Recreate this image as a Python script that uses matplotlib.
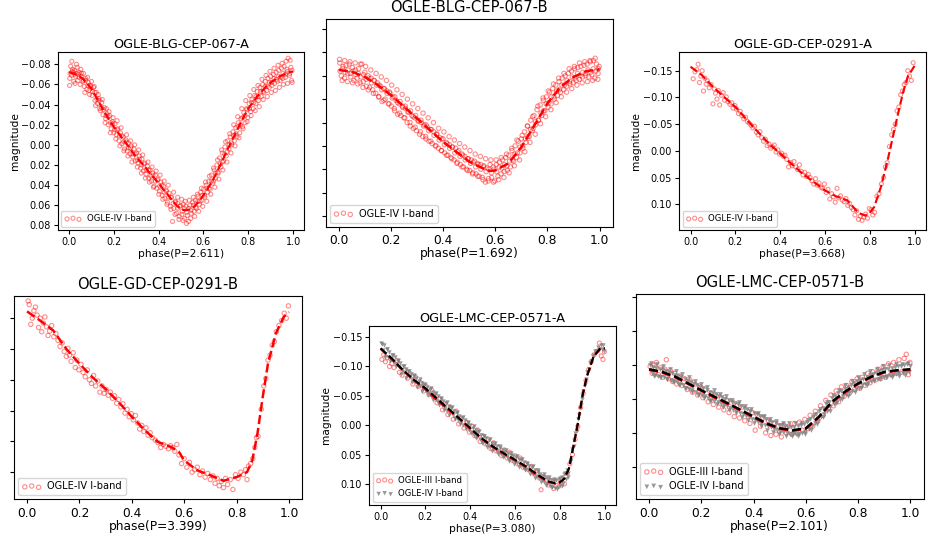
import numpy as np
import matplotlib
matplotlib.use("Agg")
import matplotlib.pyplot as plt

# ---- OGLE-BLG-CEP-067-A (OGLE-IV) ----
a_fit = [(0.00, -0.072), (0.02, -0.071), (0.04, -0.069), (0.06, -0.066), (0.08, -0.061),
         (0.10, -0.056), (0.12, -0.048), (0.14, -0.040), (0.16, -0.032), (0.18, -0.025),
         (0.20, -0.018), (0.22, -0.012), (0.24, -0.006), (0.26, 0.000), (0.28, 0.006),
         (0.30, 0.012), (0.32, 0.017), (0.34, 0.022), (0.36, 0.028), (0.38, 0.033),
         (0.40, 0.038), (0.42, 0.044), (0.44, 0.049), (0.46, 0.055), (0.48, 0.060),
         (0.50, 0.064), (0.52, 0.065), (0.54, 0.064), (0.56, 0.061), (0.58, 0.056),
         (0.60, 0.050), (0.62, 0.043), (0.64, 0.036), (0.66, 0.027), (0.68, 0.018),
         (0.70, 0.008), (0.72, -0.001), (0.74, -0.010), (0.76, -0.019), (0.78, -0.028),
         (0.80, -0.036), (0.82, -0.042), (0.84, -0.048), (0.86, -0.053), (0.88, -0.058),
         (0.90, -0.062), (0.92, -0.065), (0.94, -0.068), (0.96, -0.070), (0.98, -0.072),
         (1.00, -0.073)]
a_pts = [(0.004, -0.066), (0.008, -0.078), (0.012, -0.069), (0.016, -0.075), (0.021, -0.063),
         (0.025, -0.074), (0.030, -0.068), (0.034, -0.080), (0.040, -0.064), (0.045, -0.072),
         (0.050, -0.060), (0.056, -0.071), (0.062, -0.063), (0.068, -0.058), (0.074, -0.066),
         (0.080, -0.055), (0.086, -0.062), (0.092, -0.050), (0.098, -0.058), (0.104, -0.049),
         (0.110, -0.057), (0.116, -0.044), (0.122, -0.052), (0.128, -0.041), (0.134, -0.046),
         (0.140, -0.034), (0.146, -0.042), (0.152, -0.030), (0.158, -0.037), (0.164, -0.026),
         (0.170, -0.031), (0.176, -0.020), (0.182, -0.029), (0.188, -0.016), (0.194, -0.023),
         (0.200, -0.012), (0.206, -0.021), (0.212, -0.010), (0.218, -0.016), (0.224, -0.004),
         (0.230, -0.012), (0.236, -0.001), (0.242, -0.008), (0.248, 0.004), (0.254, -0.005),
         (0.260, 0.006), (0.266, -0.002), (0.272, 0.009), (0.278, 0.001), (0.284, 0.012),
         (0.290, 0.004), (0.296, 0.016), (0.302, 0.008), (0.308, 0.018), (0.314, 0.011),
         (0.320, 0.023), (0.326, 0.014), (0.332, 0.026), (0.338, 0.018), (0.344, 0.029),
         (0.350, 0.021), (0.356, 0.033), (0.362, 0.025), (0.368, 0.036), (0.374, 0.028),
         (0.380, 0.041), (0.386, 0.030), (0.392, 0.043), (0.398, 0.034), (0.404, 0.046),
         (0.410, 0.037), (0.416, 0.050), (0.422, 0.041), (0.428, 0.053), (0.434, 0.045),
         (0.440, 0.057), (0.446, 0.048), (0.452, 0.061), (0.458, 0.052), (0.462, 0.076),
         (0.468, 0.063), (0.474, 0.056), (0.480, 0.068), (0.486, 0.058), (0.492, 0.071),
         (0.498, 0.060), (0.504, 0.069), (0.510, 0.059), (0.516, 0.073), (0.522, 0.061),
         (0.528, 0.070), (0.534, 0.076), (0.540, 0.060), (0.546, 0.068), (0.552, 0.057),
         (0.558, 0.066), (0.564, 0.055), (0.570, 0.063), (0.576, 0.051), (0.582, 0.059),
         (0.588, 0.047), (0.594, 0.055), (0.600, 0.044), (0.606, 0.052), (0.612, 0.040),
         (0.618, 0.047), (0.624, 0.036), (0.630, 0.044), (0.636, 0.030), (0.642, 0.038),
         (0.648, 0.025), (0.654, 0.033), (0.660, 0.020), (0.666, 0.028), (0.672, 0.013),
         (0.678, 0.022), (0.684, 0.008), (0.690, 0.016), (0.696, 0.002), (0.702, 0.011),
         (0.708, -0.004), (0.714, 0.004), (0.720, -0.008), (0.726, 0.000), (0.732, -0.013),
         (0.738, -0.004), (0.744, -0.017), (0.750, -0.008), (0.756, -0.022), (0.762, -0.012),
         (0.768, -0.026), (0.774, -0.018), (0.780, -0.032), (0.786, -0.022), (0.792, -0.036),
         (0.798, -0.027), (0.804, -0.041), (0.810, -0.033), (0.816, -0.045), (0.822, -0.036),
         (0.828, -0.049), (0.834, -0.041), (0.840, -0.053), (0.846, -0.044), (0.852, -0.057),
         (0.858, -0.048), (0.864, -0.060), (0.870, -0.052), (0.876, -0.063), (0.882, -0.054),
         (0.888, -0.066), (0.894, -0.057), (0.900, -0.068), (0.906, -0.059), (0.912, -0.070),
         (0.918, -0.061), (0.924, -0.072), (0.930, -0.063), (0.936, -0.074), (0.942, -0.064),
         (0.948, -0.076), (0.954, -0.066), (0.960, -0.078), (0.966, -0.067), (0.972, -0.075),
         (0.978, -0.086), (0.984, -0.069), (0.990, -0.077), (0.996, -0.062)]
a_pts_more = [(0.003, -0.059), (0.013, -0.083), (0.019, -0.072), (0.027, -0.061), (0.037, -0.077),
              (0.043, -0.070), (0.053, -0.075), (0.065, -0.071), (0.071, -0.052), (0.083, -0.067),
              (0.089, -0.054), (0.101, -0.063), (0.113, -0.058), (0.119, -0.039), (0.131, -0.050),
              (0.137, -0.036), (0.149, -0.045), (0.161, -0.022), (0.167, -0.036), (0.179, -0.033),
              (0.185, -0.012), (0.197, -0.027), (0.209, -0.006), (0.215, -0.024), (0.227, 0.001),
              (0.233, -0.017), (0.245, 0.006), (0.257, -0.010), (0.263, 0.011), (0.275, -0.004),
              (0.281, 0.017), (0.293, 0.000), (0.305, 0.022), (0.311, 0.005), (0.323, 0.028),
              (0.329, 0.010), (0.341, 0.033), (0.353, 0.017), (0.359, 0.037), (0.371, 0.022),
              (0.377, 0.042), (0.389, 0.026), (0.401, 0.049), (0.407, 0.030), (0.419, 0.054),
              (0.425, 0.036), (0.437, 0.059), (0.443, 0.040), (0.455, 0.064), (0.467, 0.047),
              (0.473, 0.069), (0.485, 0.052), (0.491, 0.074), (0.503, 0.054), (0.509, 0.075),
              (0.519, 0.056), (0.525, 0.078), (0.537, 0.055), (0.543, 0.073), (0.555, 0.052),
              (0.561, 0.071), (0.573, 0.049), (0.579, 0.066), (0.591, 0.043), (0.597, 0.061),
              (0.609, 0.037), (0.615, 0.056), (0.627, 0.031), (0.633, 0.049), (0.645, 0.023),
              (0.651, 0.042), (0.663, 0.015), (0.669, 0.034), (0.681, 0.005), (0.687, 0.025),
              (0.699, -0.003), (0.705, 0.017), (0.717, -0.011), (0.723, 0.008), (0.735, -0.020),
              (0.741, 0.001), (0.753, -0.028), (0.759, -0.007), (0.771, -0.036), (0.777, -0.016),
              (0.789, -0.044), (0.795, -0.023), (0.807, -0.049), (0.813, -0.029), (0.825, -0.055),
              (0.831, -0.034), (0.843, -0.059), (0.849, -0.038), (0.861, -0.065), (0.867, -0.045),
              (0.879, -0.069), (0.885, -0.048), (0.897, -0.073), (0.903, -0.052), (0.915, -0.076),
              (0.921, -0.054), (0.933, -0.079), (0.939, -0.057), (0.951, -0.081), (0.957, -0.060),
              (0.969, -0.083), (0.975, -0.061), (0.987, -0.084), (0.993, -0.064)]
a_pts_core = [(0.005, -0.071), (0.015, -0.073), (0.025, -0.070), (0.035, -0.071), (0.045, -0.067),
              (0.055, -0.068), (0.065, -0.064), (0.075, -0.064), (0.085, -0.059), (0.095, -0.059),
              (0.105, -0.053), (0.115, -0.052), (0.125, -0.045), (0.135, -0.044), (0.145, -0.037),
              (0.155, -0.035), (0.165, -0.029), (0.175, -0.028), (0.185, -0.022), (0.195, -0.021),
              (0.205, -0.015), (0.215, -0.015), (0.225, -0.009), (0.235, -0.009), (0.245, -0.003),
              (0.255, -0.003), (0.265, 0.003), (0.275, 0.003), (0.285, 0.009), (0.295, 0.009),
              (0.305, 0.015), (0.315, 0.014), (0.325, 0.020), (0.335, 0.019), (0.345, 0.025),
              (0.355, 0.025), (0.365, 0.031), (0.375, 0.030), (0.385, 0.036), (0.395, 0.035),
              (0.405, 0.041), (0.415, 0.040), (0.425, 0.047), (0.435, 0.046), (0.445, 0.052),
              (0.455, 0.052), (0.465, 0.058), (0.475, 0.057), (0.485, 0.063), (0.495, 0.061),
              (0.505, 0.066), (0.515, 0.063), (0.525, 0.067), (0.535, 0.063), (0.545, 0.065),
              (0.555, 0.060), (0.565, 0.062), (0.575, 0.056), (0.585, 0.056), (0.595, 0.050),
              (0.605, 0.050), (0.615, 0.043), (0.625, 0.043), (0.635, 0.036), (0.645, 0.036),
              (0.655, 0.028), (0.665, 0.027), (0.675, 0.019), (0.685, 0.017), (0.695, 0.009),
              (0.705, 0.007), (0.715, 0.000), (0.725, -0.002), (0.735, -0.009), (0.745, -0.011),
              (0.755, -0.018), (0.765, -0.020), (0.775, -0.027), (0.785, -0.029), (0.795, -0.035),
              (0.805, -0.036), (0.815, -0.042), (0.825, -0.042), (0.835, -0.048), (0.845, -0.048),
              (0.855, -0.053), (0.865, -0.053), (0.875, -0.058), (0.885, -0.058), (0.895, -0.062),
              (0.905, -0.062), (0.915, -0.066), (0.925, -0.065), (0.935, -0.068), (0.945, -0.067),
              (0.955, -0.071), (0.965, -0.070), (0.975, -0.073), (0.985, -0.071), (0.995, -0.074)]

# ---- OGLE-BLG-CEP-067-B (OGLE-IV) ----
b_fit = [(0.00, -0.045), (0.05, -0.0435), (0.10, -0.039), (0.15, -0.032), (0.20, -0.0235),
         (0.25, -0.0135), (0.30, -0.0035), (0.35, 0.0065), (0.40, 0.0165), (0.45, 0.025),
         (0.50, 0.0335), (0.55, 0.039), (0.58, 0.0415), (0.60, 0.041), (0.65, 0.035),
         (0.70, 0.021), (0.75, 0.0025), (0.80, -0.0165), (0.85, -0.0305), (0.90, -0.039),
         (0.95, -0.044), (1.00, -0.0455)]
b_pts = [(0.004, -0.051), (0.010, -0.040), (0.016, -0.048), (0.022, -0.038), (0.028, -0.049),
         (0.034, -0.042), (0.040, -0.050), (0.046, -0.039), (0.052, -0.047), (0.058, -0.036),
         (0.064, -0.045), (0.070, -0.038), (0.076, -0.046), (0.082, -0.034), (0.088, -0.050),
         (0.094, -0.035), (0.100, -0.043), (0.106, -0.031), (0.112, -0.040), (0.118, -0.030),
         (0.124, -0.038), (0.130, -0.028), (0.136, -0.036), (0.142, -0.025), (0.148, -0.034),
         (0.154, -0.022), (0.160, -0.031), (0.166, -0.018), (0.172, -0.029), (0.178, -0.020),
         (0.184, -0.027), (0.190, -0.016), (0.196, -0.025), (0.202, -0.014), (0.208, -0.022),
         (0.214, -0.010), (0.220, -0.019), (0.226, -0.007), (0.232, -0.016), (0.238, -0.006),
         (0.244, -0.014), (0.250, -0.004), (0.256, -0.012), (0.262, 0.000), (0.268, -0.009),
         (0.274, 0.003), (0.280, -0.006), (0.286, 0.005), (0.292, -0.004), (0.298, 0.007),
         (0.304, -0.002), (0.310, 0.010), (0.316, 0.000), (0.322, 0.012), (0.328, 0.002),
         (0.334, 0.014), (0.340, 0.004), (0.346, 0.016), (0.352, 0.006), (0.358, 0.018),
         (0.364, 0.008), (0.370, 0.020), (0.376, 0.010), (0.382, 0.022), (0.388, 0.013),
         (0.394, 0.024), (0.400, 0.014), (0.406, 0.026), (0.412, 0.017), (0.418, 0.028),
         (0.424, 0.019), (0.430, 0.030), (0.436, 0.021), (0.442, 0.032), (0.448, 0.022),
         (0.454, 0.034), (0.460, 0.024), (0.466, 0.036), (0.472, 0.027), (0.478, 0.038),
         (0.484, 0.029), (0.490, 0.040), (0.496, 0.031), (0.502, 0.041), (0.508, 0.032),
         (0.514, 0.043), (0.520, 0.033), (0.526, 0.044), (0.532, 0.035), (0.538, 0.046),
         (0.544, 0.036), (0.550, 0.047), (0.556, 0.037), (0.562, 0.051), (0.568, 0.039),
         (0.574, 0.048), (0.580, 0.036), (0.586, 0.047), (0.592, 0.038), (0.598, 0.050),
         (0.604, 0.036), (0.610, 0.046), (0.616, 0.034), (0.622, 0.044), (0.628, 0.032),
         (0.634, 0.042), (0.640, 0.030), (0.646, 0.041), (0.652, 0.028), (0.658, 0.038),
         (0.664, 0.024), (0.670, 0.033), (0.676, 0.020), (0.682, 0.030), (0.688, 0.016),
         (0.694, 0.026), (0.700, 0.014), (0.706, 0.022), (0.712, 0.008), (0.718, 0.017),
         (0.724, 0.003), (0.730, 0.012), (0.736, -0.002), (0.742, 0.007), (0.748, -0.006),
         (0.754, 0.002), (0.760, -0.011), (0.766, -0.002), (0.772, -0.015), (0.778, -0.006),
         (0.784, -0.019), (0.790, -0.010), (0.796, -0.022), (0.802, -0.013), (0.808, -0.026),
         (0.814, -0.016), (0.820, -0.029), (0.826, -0.020), (0.832, -0.032), (0.838, -0.023),
         (0.844, -0.035), (0.850, -0.026), (0.856, -0.038), (0.862, -0.028), (0.868, -0.040),
         (0.874, -0.031), (0.880, -0.042), (0.886, -0.033), (0.892, -0.044), (0.898, -0.034),
         (0.904, -0.046), (0.910, -0.036), (0.916, -0.047), (0.922, -0.037), (0.928, -0.048),
         (0.934, -0.039), (0.940, -0.049), (0.946, -0.040), (0.952, -0.050), (0.958, -0.039),
         (0.964, -0.052), (0.970, -0.041), (0.976, -0.053), (0.982, -0.038), (0.988, -0.050),
         (0.994, -0.042), (0.998, -0.048)]
b_pts_more = [(0.003, -0.054), (0.013, -0.036), (0.023, -0.053), (0.033, -0.035), (0.043, -0.052),
              (0.053, -0.034), (0.063, -0.051), (0.073, -0.033), (0.083, -0.050), (0.093, -0.030),
              (0.103, -0.048), (0.113, -0.028), (0.123, -0.045), (0.133, -0.025), (0.143, -0.042),
              (0.153, -0.022), (0.163, -0.039), (0.173, -0.019), (0.183, -0.036), (0.193, -0.016),
              (0.203, -0.032), (0.213, -0.012), (0.223, -0.028), (0.233, -0.008), (0.243, -0.024),
              (0.253, -0.004), (0.263, -0.020), (0.273, 0.000), (0.283, -0.016), (0.293, 0.004),
              (0.303, -0.012), (0.313, 0.008), (0.323, -0.008), (0.333, 0.012), (0.343, -0.004),
              (0.353, 0.016), (0.363, 0.000), (0.373, 0.020), (0.383, 0.005), (0.393, 0.024),
              (0.403, 0.008), (0.413, 0.028), (0.423, 0.012), (0.433, 0.031), (0.443, 0.015),
              (0.453, 0.035), (0.463, 0.018), (0.473, 0.038), (0.483, 0.021), (0.493, 0.041),
              (0.503, 0.024), (0.513, 0.044), (0.523, 0.027), (0.533, 0.046), (0.543, 0.029),
              (0.553, 0.049), (0.563, 0.031), (0.573, 0.050), (0.583, 0.032), (0.593, 0.051),
              (0.603, 0.032), (0.613, 0.049), (0.623, 0.030), (0.633, 0.047), (0.643, 0.027),
              (0.653, 0.043), (0.663, 0.022), (0.673, 0.037), (0.683, 0.015), (0.693, 0.032),
              (0.703, 0.011), (0.713, 0.025), (0.723, 0.003), (0.733, 0.017), (0.743, -0.005),
              (0.753, 0.010), (0.763, -0.014), (0.773, 0.001), (0.783, -0.021), (0.793, -0.005),
              (0.803, -0.027), (0.813, -0.011), (0.823, -0.033), (0.833, -0.017), (0.843, -0.038),
              (0.853, -0.022), (0.863, -0.042), (0.873, -0.026), (0.883, -0.046), (0.893, -0.029),
              (0.903, -0.048), (0.913, -0.032), (0.923, -0.051), (0.933, -0.034), (0.943, -0.052),
              (0.953, -0.035), (0.963, -0.053), (0.973, -0.036), (0.983, -0.055), (0.993, -0.037)]
b_pts_core = [(0.005, -0.044), (0.015, -0.046), (0.025, -0.043), (0.035, -0.045), (0.045, -0.042),
              (0.055, -0.044), (0.065, -0.041), (0.075, -0.042), (0.085, -0.039), (0.095, -0.041),
              (0.105, -0.037), (0.115, -0.038), (0.125, -0.034), (0.135, -0.036), (0.145, -0.032),
              (0.155, -0.032), (0.165, -0.028), (0.175, -0.029), (0.185, -0.025), (0.195, -0.026),
              (0.205, -0.021), (0.215, -0.022), (0.225, -0.017), (0.235, -0.018), (0.245, -0.013),
              (0.255, -0.014), (0.265, -0.009), (0.275, -0.010), (0.285, -0.005), (0.295, -0.006),
              (0.305, -0.001), (0.315, -0.002), (0.325, 0.003), (0.335, 0.002), (0.345, 0.007),
              (0.355, 0.006), (0.365, 0.011), (0.375, 0.010), (0.385, 0.015), (0.395, 0.014),
              (0.405, 0.019), (0.415, 0.018), (0.425, 0.022), (0.435, 0.021), (0.445, 0.026),
              (0.455, 0.025), (0.465, 0.029), (0.475, 0.028), (0.485, 0.032), (0.495, 0.031),
              (0.505, 0.035), (0.515, 0.034), (0.525, 0.038), (0.535, 0.036), (0.545, 0.040),
              (0.555, 0.038), (0.565, 0.042), (0.575, 0.040), (0.585, 0.043), (0.595, 0.040),
              (0.605, 0.042), (0.615, 0.038), (0.625, 0.039), (0.635, 0.036), (0.645, 0.037),
              (0.655, 0.033), (0.665, 0.032), (0.675, 0.027), (0.685, 0.026), (0.695, 0.021),
              (0.705, 0.020), (0.715, 0.014), (0.725, 0.012), (0.735, 0.006), (0.745, 0.005),
              (0.755, -0.001), (0.765, -0.002), (0.775, -0.008), (0.785, -0.010), (0.795, -0.016),
              (0.805, -0.017), (0.815, -0.022), (0.825, -0.022), (0.835, -0.027), (0.845, -0.028),
              (0.855, -0.032), (0.865, -0.032), (0.875, -0.036), (0.885, -0.035), (0.895, -0.039),
              (0.905, -0.038), (0.915, -0.042), (0.925, -0.040), (0.935, -0.043), (0.945, -0.042),
              (0.955, -0.045), (0.965, -0.043), (0.975, -0.046), (0.985, -0.044), (0.995, -0.046)]

# ---- OGLE-GD-CEP-0291-A (OGLE-IV) ----
c_fit = [(0.00, -0.1575), (0.05, -0.142), (0.10, -0.120), (0.15, -0.101), (0.20, -0.0825),
         (0.25, -0.059), (0.30, -0.036), (0.35, -0.014), (0.40, 0.005), (0.45, 0.024),
         (0.50, 0.0425), (0.55, 0.058), (0.60, 0.074), (0.65, 0.085), (0.70, 0.0925),
         (0.75, 0.116), (0.78, 0.121), (0.80, 0.116), (0.82, 0.105), (0.85, 0.0675),
         (0.88, 0.0175), (0.90, -0.020), (0.93, -0.076), (0.95, -0.111), (0.97, -0.139),
         (1.00, -0.159)]
c_pts = [(0.012, -0.135), (0.020, -0.148), (0.028, -0.152), (0.034, -0.162), (0.040, -0.128),
         (0.046, -0.140), (0.052, -0.150), (0.058, -0.112), (0.064, -0.136), (0.070, -0.125),
         (0.076, -0.131), (0.084, -0.118), (0.092, -0.124), (0.100, -0.088), (0.106, -0.116),
         (0.112, -0.108), (0.118, -0.097), (0.124, -0.113), (0.130, -0.086), (0.138, -0.104),
         (0.146, -0.109), (0.152, -0.095), (0.160, -0.101), (0.168, -0.092), (0.176, -0.087),
         (0.184, -0.090), (0.190, -0.080), (0.198, -0.085), (0.206, -0.078), (0.214, -0.070),
         (0.222, -0.074), (0.230, -0.066), (0.238, -0.060), (0.246, -0.063), (0.254, -0.055),
         (0.262, -0.052), (0.270, -0.048), (0.278, -0.043), (0.286, -0.046), (0.294, -0.035),
         (0.302, -0.030), (0.310, -0.036), (0.318, -0.025), (0.326, -0.018), (0.334, -0.022),
         (0.342, -0.010), (0.350, -0.013), (0.358, -0.005), (0.366, -0.008), (0.374, -0.011),
         (0.382, 0.002), (0.390, -0.002), (0.398, 0.006), (0.406, 0.004), (0.414, 0.010),
         (0.422, 0.008), (0.430, 0.016), (0.438, 0.030), (0.446, 0.022), (0.454, 0.028),
         (0.462, 0.020), (0.470, 0.030), (0.478, 0.035), (0.486, 0.026), (0.494, 0.038),
         (0.502, 0.045), (0.510, 0.040), (0.518, 0.048), (0.526, 0.044), (0.534, 0.050),
         (0.542, 0.056), (0.550, 0.062), (0.558, 0.052), (0.566, 0.064), (0.574, 0.060),
         (0.582, 0.068), (0.590, 0.070), (0.598, 0.062), (0.606, 0.078), (0.614, 0.072),
         (0.622, 0.090), (0.630, 0.080), (0.638, 0.086), (0.646, 0.096), (0.654, 0.070),
         (0.662, 0.088), (0.670, 0.084), (0.678, 0.092), (0.686, 0.095), (0.694, 0.089),
         (0.702, 0.102), (0.710, 0.098), (0.718, 0.106), (0.726, 0.110), (0.734, 0.120),
         (0.742, 0.112), (0.750, 0.128), (0.758, 0.122), (0.766, 0.130), (0.774, 0.124),
         (0.782, 0.118), (0.790, 0.126), (0.798, 0.108), (0.806, 0.110), (0.814, 0.120),
         (0.822, 0.115), (0.832, 0.085), (0.842, 0.080), (0.852, 0.062), (0.862, 0.050),
         (0.870, 0.030), (0.878, 0.022), (0.888, -0.008), (0.898, -0.030), (0.906, -0.040),
         (0.914, -0.050), (0.922, -0.075), (0.930, -0.082), (0.938, -0.105), (0.946, -0.112),
         (0.954, -0.124), (0.962, -0.128), (0.970, -0.150), (0.978, -0.140), (0.986, -0.132),
         (0.994, -0.165)]

# ---- OGLE-GD-CEP-0291-B (OGLE-IV) ----
d_fit = [(0.00, -0.161), (0.05, -0.146), (0.10, -0.130), (0.15, -0.100), (0.20, -0.076),
         (0.25, -0.054), (0.30, -0.035), (0.35, -0.0135), (0.40, 0.010), (0.45, 0.032),
         (0.50, 0.051), (0.55, 0.059), (0.58, 0.067), (0.60, 0.081), (0.65, 0.097),
         (0.70, 0.105), (0.75, 0.114), (0.80, 0.108), (0.84, 0.100), (0.86, 0.081),
         (0.88, 0.037), (0.90, -0.022), (0.92, -0.076), (0.95, -0.125), (0.98, -0.152),
         (1.00, -0.160)]
d_pts = [(0.004, -0.178), (0.008, -0.172), (0.014, -0.140), (0.020, -0.150), (0.026, -0.162),
         (0.032, -0.168), (0.038, -0.155), (0.044, -0.135), (0.050, -0.150), (0.056, -0.128),
         (0.062, -0.142), (0.068, -0.152), (0.074, -0.136), (0.080, -0.122), (0.086, -0.129),
         (0.094, -0.138), (0.102, -0.120), (0.110, -0.125), (0.118, -0.114), (0.126, -0.104),
         (0.134, -0.110), (0.142, -0.096), (0.150, -0.088), (0.156, -0.101), (0.162, -0.090),
         (0.168, -0.080), (0.176, -0.094), (0.184, -0.070), (0.190, -0.082), (0.198, -0.066),
         (0.206, -0.075), (0.214, -0.062), (0.222, -0.055), (0.230, -0.066), (0.238, -0.050),
         (0.246, -0.044), (0.254, -0.057), (0.262, -0.040), (0.270, -0.048), (0.278, -0.030),
         (0.286, -0.040), (0.294, -0.028), (0.302, -0.034), (0.310, -0.025), (0.318, -0.030),
         (0.326, -0.020), (0.334, -0.024), (0.342, -0.012), (0.350, -0.018), (0.358, -0.006),
         (0.366, -0.011), (0.374, 0.004), (0.382, -0.002), (0.390, 0.010), (0.398, 0.005),
         (0.406, 0.015), (0.414, 0.008), (0.422, 0.020), (0.430, 0.030), (0.438, 0.024),
         (0.446, 0.034), (0.454, 0.028), (0.462, 0.040), (0.470, 0.036), (0.478, 0.044),
         (0.490, 0.048), (0.500, 0.052), (0.510, 0.060), (0.520, 0.055), (0.530, 0.058),
         (0.540, 0.062), (0.548, 0.057), (0.556, 0.060), (0.564, 0.066), (0.572, 0.055),
         (0.580, 0.072), (0.590, 0.086), (0.600, 0.078), (0.610, 0.092), (0.620, 0.084),
         (0.630, 0.100), (0.640, 0.096), (0.650, 0.092), (0.660, 0.104), (0.670, 0.098),
         (0.680, 0.108), (0.690, 0.102), (0.700, 0.112), (0.710, 0.106), (0.718, 0.118),
         (0.726, 0.110), (0.734, 0.122), (0.742, 0.115), (0.750, 0.125), (0.758, 0.110),
         (0.766, 0.120), (0.776, 0.112), (0.786, 0.128), (0.796, 0.104), (0.806, 0.110),
         (0.816, 0.100), (0.826, 0.104), (0.834, 0.096), (0.840, 0.112), (0.846, 0.090),
         (0.854, 0.086), (0.862, 0.078), (0.870, 0.060), (0.876, 0.044), (0.882, 0.042),
         (0.894, -0.002), (0.904, -0.040), (0.912, -0.052), (0.920, -0.082), (0.928, -0.090),
         (0.936, -0.106), (0.944, -0.112), (0.952, -0.128), (0.962, -0.138), (0.972, -0.146),
         (0.982, -0.158), (0.990, -0.150), (0.998, -0.170)]

# ---- OGLE-LMC-CEP-0571-A (OGLE-III red, OGLE-IV grey) ----
e_fit3 = [(0.00, -0.130), (0.05, -0.112), (0.10, -0.093), (0.15, -0.076), (0.20, -0.061),
          (0.25, -0.043), (0.30, -0.027), (0.35, -0.011), (0.40, 0.006), (0.45, 0.023),
          (0.50, 0.037), (0.55, 0.049), (0.60, 0.060), (0.65, 0.072), (0.70, 0.086),
          (0.75, 0.097), (0.78, 0.100), (0.80, 0.098), (0.82, 0.091), (0.84, 0.074),
          (0.86, 0.036), (0.88, -0.003), (0.90, -0.049), (0.92, -0.083), (0.95, -0.117),
          (0.98, -0.130), (1.00, -0.130)]
e_fit4 = [(0.00, -0.131), (0.05, -0.114), (0.10, -0.094), (0.15, -0.077), (0.20, -0.063),
          (0.25, -0.046), (0.30, -0.029), (0.35, -0.012), (0.40, 0.005), (0.45, 0.022),
          (0.50, 0.036), (0.55, 0.048), (0.60, 0.059), (0.65, 0.0705), (0.70, 0.0845),
          (0.75, 0.096), (0.78, 0.099), (0.80, 0.097), (0.82, 0.091), (0.84, 0.074),
          (0.86, 0.036), (0.88, -0.003), (0.90, -0.049), (0.92, -0.083), (0.95, -0.117),
          (0.98, -0.131), (1.00, -0.131)]
e_pts3 = [(0.006, -0.112), (0.014, -0.120), (0.022, -0.108), (0.030, -0.115), (0.040, -0.100),
          (0.050, -0.105), (0.060, -0.098), (0.072, -0.110), (0.084, -0.090), (0.096, -0.085),
          (0.108, -0.094), (0.120, -0.080), (0.132, -0.088), (0.144, -0.070), (0.156, -0.082),
          (0.168, -0.066), (0.180, -0.072), (0.192, -0.058), (0.204, -0.066), (0.216, -0.052),
          (0.228, -0.060), (0.240, -0.048), (0.252, -0.038), (0.264, -0.045), (0.276, -0.026),
          (0.288, -0.036), (0.300, -0.018), (0.312, -0.030), (0.324, -0.010), (0.336, -0.024),
          (0.348, -0.002), (0.360, -0.012), (0.372, 0.005), (0.384, -0.005), (0.396, 0.012),
          (0.408, 0.002), (0.420, 0.018), (0.432, 0.008), (0.444, 0.028), (0.456, 0.018),
          (0.468, 0.032), (0.480, 0.024), (0.492, 0.040), (0.504, 0.030), (0.516, 0.044),
          (0.528, 0.038), (0.540, 0.052), (0.552, 0.042), (0.564, 0.056), (0.576, 0.046),
          (0.588, 0.060), (0.600, 0.052), (0.612, 0.066), (0.624, 0.056), (0.636, 0.072),
          (0.648, 0.066), (0.660, 0.076), (0.672, 0.070), (0.684, 0.082), (0.696, 0.078),
          (0.708, 0.090), (0.716, 0.110), (0.724, 0.088), (0.736, 0.094), (0.748, 0.102),
          (0.760, 0.094), (0.772, 0.108), (0.784, 0.096), (0.796, 0.104), (0.808, 0.092),
          (0.820, 0.100), (0.832, 0.082), (0.844, 0.066), (0.856, 0.050), (0.868, 0.024),
          (0.880, 0.002), (0.892, -0.030), (0.904, -0.054), (0.916, -0.076), (0.928, -0.095),
          (0.940, -0.108), (0.952, -0.120), (0.964, -0.126), (0.976, -0.140), (0.984, -0.118),
          (0.992, -0.112), (0.998, -0.125)]
e_pts4 = [(0.004, -0.140), (0.010, -0.128), (0.016, -0.136), (0.022, -0.122), (0.028, -0.130),
          (0.034, -0.117), (0.040, -0.125), (0.046, -0.113), (0.052, -0.119), (0.058, -0.108),
          (0.064, -0.116), (0.070, -0.104), (0.076, -0.111), (0.082, -0.099), (0.088, -0.106),
          (0.094, -0.094), (0.100, -0.101), (0.106, -0.090), (0.112, -0.096), (0.118, -0.086),
          (0.124, -0.093), (0.130, -0.082), (0.136, -0.088), (0.142, -0.078), (0.148, -0.084),
          (0.154, -0.073), (0.160, -0.080), (0.166, -0.070), (0.172, -0.076), (0.178, -0.066),
          (0.184, -0.072), (0.190, -0.062), (0.196, -0.068), (0.202, -0.058), (0.208, -0.065),
          (0.214, -0.054), (0.220, -0.061), (0.226, -0.050), (0.232, -0.057), (0.238, -0.046),
          (0.244, -0.053), (0.250, -0.042), (0.256, -0.049), (0.262, -0.038), (0.268, -0.045),
          (0.274, -0.034), (0.280, -0.041), (0.286, -0.030), (0.292, -0.037), (0.298, -0.025),
          (0.304, -0.033), (0.310, -0.021), (0.316, -0.029), (0.322, -0.017), (0.328, -0.025),
          (0.334, -0.013), (0.340, -0.021), (0.346, -0.009), (0.352, -0.016), (0.358, -0.005),
          (0.364, -0.012), (0.370, -0.001), (0.376, -0.008), (0.382, 0.003), (0.388, -0.004),
          (0.394, 0.008), (0.400, 0.000), (0.406, 0.012), (0.412, 0.004), (0.418, 0.016),
          (0.424, 0.008), (0.430, 0.020), (0.436, 0.012), (0.442, 0.024), (0.448, 0.016),
          (0.454, 0.027), (0.460, 0.019), (0.466, 0.030), (0.472, 0.022), (0.478, 0.033),
          (0.484, 0.026), (0.490, 0.037), (0.496, 0.030), (0.502, 0.040), (0.508, 0.033),
          (0.514, 0.043), (0.520, 0.036), (0.526, 0.046), (0.532, 0.039), (0.538, 0.049),
          (0.544, 0.042), (0.550, 0.052), (0.556, 0.045), (0.562, 0.054), (0.568, 0.047),
          (0.574, 0.057), (0.580, 0.050), (0.586, 0.060), (0.592, 0.053), (0.598, 0.063),
          (0.604, 0.055), (0.610, 0.065), (0.616, 0.058), (0.622, 0.068), (0.628, 0.060),
          (0.634, 0.071), (0.640, 0.063), (0.646, 0.074), (0.652, 0.066), (0.658, 0.077),
          (0.664, 0.069), (0.670, 0.080), (0.676, 0.072), (0.682, 0.084), (0.688, 0.076),
          (0.694, 0.087), (0.700, 0.079), (0.706, 0.090), (0.712, 0.083), (0.718, 0.093),
          (0.724, 0.086), (0.730, 0.096), (0.736, 0.089), (0.742, 0.100), (0.748, 0.092),
          (0.754, 0.104), (0.760, 0.094), (0.766, 0.106), (0.772, 0.095), (0.778, 0.107),
          (0.784, 0.094), (0.790, 0.105), (0.796, 0.092), (0.802, 0.102), (0.808, 0.088),
          (0.814, 0.098), (0.820, 0.084), (0.826, 0.092), (0.832, 0.076), (0.838, 0.082),
          (0.844, 0.062), (0.850, 0.060), (0.856, 0.040), (0.862, 0.036), (0.868, 0.014),
          (0.874, 0.010), (0.880, -0.010), (0.886, -0.018), (0.892, -0.034), (0.898, -0.044),
          (0.904, -0.058), (0.910, -0.068), (0.916, -0.078), (0.922, -0.090), (0.928, -0.096),
          (0.934, -0.106), (0.940, -0.110), (0.946, -0.118), (0.952, -0.120), (0.958, -0.127),
          (0.964, -0.126), (0.970, -0.133), (0.976, -0.128), (0.982, -0.136), (0.988, -0.129),
          (0.994, -0.136), (0.998, -0.127)]
e_pts4_more = [(0.007, -0.138), (0.019, -0.117), (0.031, -0.129), (0.043, -0.110), (0.055, -0.120),
               (0.067, -0.100), (0.079, -0.110), (0.091, -0.088), (0.103, -0.101), (0.115, -0.081),
               (0.127, -0.092), (0.139, -0.073), (0.151, -0.085), (0.163, -0.065), (0.175, -0.078),
               (0.187, -0.058), (0.199, -0.071), (0.211, -0.051), (0.223, -0.064), (0.235, -0.043),
               (0.247, -0.055), (0.259, -0.035), (0.271, -0.047), (0.283, -0.026), (0.295, -0.039),
               (0.307, -0.018), (0.319, -0.031), (0.331, -0.010), (0.343, -0.023), (0.355, -0.002),
               (0.367, -0.014), (0.379, 0.006), (0.391, -0.006), (0.403, 0.014), (0.415, 0.002),
               (0.427, 0.022), (0.439, 0.010), (0.451, 0.031), (0.463, 0.018), (0.475, 0.038),
               (0.487, 0.024), (0.499, 0.044), (0.511, 0.031), (0.523, 0.049), (0.535, 0.036),
               (0.547, 0.055), (0.559, 0.042), (0.571, 0.061), (0.583, 0.047), (0.595, 0.066),
               (0.607, 0.052), (0.619, 0.071), (0.631, 0.058), (0.643, 0.077), (0.655, 0.064),
               (0.667, 0.083), (0.679, 0.070), (0.691, 0.090), (0.703, 0.077), (0.715, 0.096),
               (0.727, 0.083), (0.739, 0.102), (0.751, 0.088), (0.763, 0.106), (0.775, 0.091),
               (0.787, 0.108), (0.799, 0.090), (0.811, 0.103), (0.823, 0.081), (0.835, 0.088)]

# ---- OGLE-LMC-CEP-0571-B (OGLE-III red, OGLE-IV grey) ----
f_fit3 = [(0.00, -0.043), (0.05, -0.039), (0.10, -0.032), (0.15, -0.022), (0.20, -0.012),
          (0.25, -0.002), (0.30, 0.007), (0.35, 0.017), (0.40, 0.027), (0.45, 0.037),
          (0.50, 0.044), (0.55, 0.047), (0.60, 0.044), (0.65, 0.027), (0.70, 0.005),
          (0.75, -0.010), (0.80, -0.022), (0.85, -0.032), (0.90, -0.039), (0.95, -0.042),
          (1.00, -0.043)]
f_fit4 = [(0.00, -0.044), (0.05, -0.040), (0.10, -0.033), (0.15, -0.023), (0.20, -0.013),
          (0.25, -0.0035), (0.30, 0.006), (0.35, 0.016), (0.40, 0.026), (0.45, 0.036),
          (0.50, 0.043), (0.55, 0.046), (0.60, 0.043), (0.65, 0.026), (0.70, 0.004),
          (0.75, -0.011), (0.80, -0.023), (0.85, -0.033), (0.90, -0.040), (0.95, -0.0425),
          (1.00, -0.044)]
f_pts3 = [(0.004, -0.048), (0.012, -0.038), (0.020, -0.050), (0.028, -0.054), (0.036, -0.036),
          (0.044, -0.046), (0.052, -0.032), (0.060, -0.044), (0.066, -0.058), (0.074, -0.030),
          (0.082, -0.042), (0.090, -0.026), (0.098, -0.038), (0.106, -0.022), (0.116, -0.034),
          (0.126, -0.020), (0.136, -0.030), (0.146, -0.014), (0.156, -0.028), (0.166, -0.010),
          (0.176, -0.022), (0.186, -0.006), (0.196, -0.018), (0.206, -0.002), (0.216, -0.014),
          (0.226, 0.004), (0.236, -0.008), (0.246, 0.008), (0.256, -0.004), (0.266, 0.012),
          (0.276, 0.000), (0.286, 0.016), (0.296, 0.002), (0.306, 0.020), (0.316, 0.006),
          (0.326, 0.026), (0.336, 0.010), (0.346, 0.028), (0.356, 0.012), (0.366, 0.032),
          (0.376, 0.018), (0.386, 0.036), (0.396, 0.020), (0.406, 0.046), (0.416, 0.024),
          (0.426, 0.040), (0.436, 0.028), (0.446, 0.050), (0.456, 0.032), (0.466, 0.054),
          (0.476, 0.036), (0.486, 0.052), (0.496, 0.040), (0.506, 0.056), (0.516, 0.038),
          (0.526, 0.050), (0.536, 0.040), (0.546, 0.052), (0.556, 0.036), (0.566, 0.050),
          (0.576, 0.034), (0.586, 0.046), (0.596, 0.030), (0.606, 0.044), (0.616, 0.024),
          (0.626, 0.040), (0.636, 0.018), (0.646, 0.032), (0.656, 0.010), (0.666, 0.024),
          (0.676, 0.002), (0.686, 0.014), (0.696, -0.006), (0.706, 0.010), (0.716, -0.012),
          (0.726, 0.004), (0.736, -0.018), (0.746, -0.004), (0.756, -0.020), (0.766, -0.008),
          (0.776, -0.026), (0.786, -0.014), (0.796, -0.030), (0.806, -0.016), (0.816, -0.032),
          (0.826, -0.020), (0.836, -0.038), (0.846, -0.024), (0.856, -0.040), (0.866, -0.028),
          (0.876, -0.044), (0.886, -0.030), (0.896, -0.048), (0.906, -0.032), (0.916, -0.052),
          (0.926, -0.036), (0.936, -0.054), (0.946, -0.038), (0.956, -0.058), (0.966, -0.040),
          (0.976, -0.060), (0.984, -0.066), (0.992, -0.036), (0.998, -0.054)]
f_pts4 = [(0.004, -0.050), (0.010, -0.038), (0.016, -0.047), (0.022, -0.036), (0.028, -0.046),
          (0.034, -0.034), (0.040, -0.045), (0.046, -0.033), (0.052, -0.043), (0.058, -0.032),
          (0.064, -0.041), (0.070, -0.030), (0.076, -0.040), (0.082, -0.028), (0.088, -0.038),
          (0.094, -0.026), (0.100, -0.036), (0.106, -0.025), (0.112, -0.034), (0.118, -0.022),
          (0.124, -0.032), (0.130, -0.020), (0.136, -0.029), (0.142, -0.017), (0.148, -0.027),
          (0.154, -0.015), (0.160, -0.025), (0.166, -0.013), (0.172, -0.022), (0.178, -0.010),
          (0.184, -0.020), (0.190, -0.008), (0.196, -0.018), (0.202, -0.006), (0.208, -0.016),
          (0.214, -0.004), (0.220, -0.014), (0.226, -0.002), (0.232, -0.011), (0.238, 0.001),
          (0.244, -0.009), (0.250, 0.003), (0.256, -0.007), (0.262, 0.005), (0.268, -0.005),
          (0.274, 0.007), (0.280, -0.003), (0.286, 0.009), (0.292, 0.000), (0.298, 0.011),
          (0.304, 0.002), (0.310, 0.013), (0.316, 0.004), (0.322, 0.016), (0.328, 0.006),
          (0.334, 0.018), (0.340, 0.008), (0.346, 0.020), (0.352, 0.011), (0.358, 0.022),
          (0.364, 0.013), (0.370, 0.025), (0.376, 0.015), (0.382, 0.027), (0.388, 0.018),
          (0.394, 0.029), (0.400, 0.020), (0.406, 0.031), (0.412, 0.022), (0.418, 0.034),
          (0.424, 0.025), (0.430, 0.036), (0.436, 0.027), (0.442, 0.038), (0.448, 0.030),
          (0.454, 0.040), (0.460, 0.032), (0.466, 0.042), (0.472, 0.034), (0.478, 0.044),
          (0.484, 0.036), (0.490, 0.046), (0.496, 0.038), (0.502, 0.048), (0.508, 0.039),
          (0.514, 0.049), (0.520, 0.040), (0.526, 0.050), (0.532, 0.041), (0.538, 0.051),
          (0.544, 0.042), (0.550, 0.052), (0.556, 0.041), (0.562, 0.052), (0.568, 0.040),
          (0.574, 0.051), (0.580, 0.039), (0.586, 0.050), (0.592, 0.037), (0.598, 0.048),
          (0.604, 0.034), (0.610, 0.044), (0.616, 0.030), (0.622, 0.040), (0.628, 0.026),
          (0.634, 0.036), (0.640, 0.022), (0.646, 0.032), (0.652, 0.018), (0.658, 0.027),
          (0.664, 0.013), (0.670, 0.022), (0.676, 0.008), (0.682, 0.017), (0.688, 0.004),
          (0.694, 0.012), (0.700, -0.001), (0.706, 0.008), (0.712, -0.005), (0.718, 0.004),
          (0.724, -0.009), (0.730, 0.000), (0.736, -0.012), (0.742, -0.004), (0.748, -0.015),
          (0.754, -0.007), (0.760, -0.018), (0.766, -0.009), (0.772, -0.020), (0.778, -0.012),
          (0.784, -0.023), (0.790, -0.015), (0.796, -0.026), (0.802, -0.017), (0.808, -0.028),
          (0.814, -0.020), (0.820, -0.030), (0.826, -0.022), (0.832, -0.033), (0.838, -0.024),
          (0.844, -0.035), (0.850, -0.026), (0.856, -0.037), (0.862, -0.028), (0.868, -0.039),
          (0.874, -0.030), (0.880, -0.041), (0.886, -0.032), (0.892, -0.043), (0.898, -0.033),
          (0.904, -0.044), (0.910, -0.034), (0.916, -0.045), (0.922, -0.035), (0.928, -0.046),
          (0.934, -0.036), (0.940, -0.047), (0.946, -0.037), (0.952, -0.048), (0.958, -0.038),
          (0.964, -0.049), (0.970, -0.039), (0.976, -0.050), (0.982, -0.040), (0.988, -0.051),
          (0.994, -0.040), (0.998, -0.049)]
f_pts4_more = [(0.007, -0.053), (0.019, -0.034), (0.031, -0.051), (0.043, -0.032), (0.055, -0.048),
               (0.067, -0.029), (0.079, -0.045), (0.091, -0.025), (0.103, -0.042), (0.115, -0.021),
               (0.127, -0.037), (0.139, -0.016), (0.151, -0.032), (0.163, -0.011), (0.175, -0.027),
               (0.187, -0.006), (0.199, -0.022), (0.211, -0.002), (0.223, -0.018), (0.235, 0.003),
               (0.247, -0.013), (0.259, 0.007), (0.271, -0.008), (0.283, 0.012), (0.295, -0.004),
               (0.307, 0.016), (0.319, 0.001), (0.331, 0.021), (0.343, 0.005), (0.355, 0.026),
               (0.367, 0.010), (0.379, 0.031), (0.391, 0.015), (0.403, 0.035), (0.415, 0.020),
               (0.427, 0.040), (0.439, 0.025), (0.451, 0.045), (0.463, 0.029), (0.475, 0.049),
               (0.487, 0.032), (0.499, 0.052), (0.511, 0.035), (0.523, 0.054), (0.535, 0.036),
               (0.547, 0.055), (0.559, 0.036), (0.571, 0.054), (0.583, 0.035), (0.595, 0.052),
               (0.607, 0.031), (0.619, 0.045), (0.631, 0.023), (0.643, 0.037), (0.655, 0.015),
               (0.667, 0.027), (0.679, 0.004), (0.691, 0.017), (0.703, -0.006), (0.715, 0.006),
               (0.727, -0.013), (0.739, 0.000), (0.751, -0.020), (0.763, -0.005), (0.775, -0.026),
               (0.787, -0.011), (0.799, -0.032), (0.811, -0.016), (0.823, -0.037), (0.835, -0.021),
               (0.847, -0.041), (0.859, -0.026), (0.871, -0.045), (0.883, -0.029), (0.895, -0.048),
               (0.907, -0.032), (0.919, -0.050), (0.931, -0.033), (0.943, -0.051), (0.955, -0.034),
               (0.967, -0.052), (0.979, -0.035), (0.991, -0.053)]

ticks_blg = [-0.08, -0.06, -0.04, -0.02, 0.00, 0.02, 0.04, 0.06, 0.08]
ticks_cep = [-0.15, -0.10, -0.05, 0.00, 0.05, 0.10]

W, H = 938, 552
fig = plt.figure(figsize=(W / 100, H / 100), dpi=100)


def panel(box, title, period, scale, ylim, yticks, ylabels, red_pts, red_fit,
          grey_pts=None, grey_fit=None):
    l, t, r, b = box
    ax = fig.add_axes([l / W, 1 - b / H, (r - l) / W, (b - t) / H])
    p, m = zip(*red_pts)
    lab = "OGLE-III I-band" if grey_pts is not None else "OGLE-IV I-band"
    ax.scatter(p, m, s=11 * scale, facecolors="none", edgecolors="red",
               linewidths=0.8, alpha=0.45, label=lab, zorder=2)
    if grey_pts is not None:
        gp, gm = zip(*grey_pts)
        ax.scatter(gp, gm, s=13 * scale, marker="v", color="grey",
                   alpha=0.8, linewidths=0, label="OGLE-IV I-band", zorder=3)
    fp, fm = zip(*red_fit)
    ax.plot(fp, fm, "r--", lw=2.0 * scale, zorder=4)
    if grey_fit is not None:
        gp, gm = zip(*grey_fit)
        ax.plot(gp, gm, "k--", lw=2.0 * scale, zorder=5)
    ax.set_xlim(-0.05, 1.05)
    ax.set_ylim(*ylim)
    ax.set_yticks(yticks)
    ax.set_xticks([0.0, 0.2, 0.4, 0.6, 0.8, 1.0])
    small = ylabels
    ax.tick_params(labelsize=(9.0 if small else 10) * scale, length=3.5 * scale,
                   width=0.8, pad=2.5)
    if ylabels:
        ax.set_ylabel("magnitude", fontsize=10 * scale, labelpad=1)
    else:
        ax.tick_params(labelleft=False)
    ax.set_xlabel("phase(P=%s)" % period, fontsize=10 * scale,
                  labelpad=1 if small else 0)
    ax.set_title(title, fontsize=12 * scale, pad=3 if small else 5)
    ax.legend(loc="lower left", fontsize=8 * scale, scatterpoints=3,
              handletextpad=0.6, borderaxespad=0.4)
    return ax


small_s, big_s = 0.767, 0.885
panel((57.7, 51.7, 304.3, 230), "OGLE-BLG-CEP-067-A", "2.611", small_s,
      (0.0845, -0.0925), ticks_blg, True, a_pts + a_pts_more + a_pts_core, a_fit)
panel((325.7, 19, 612.7, 226.5), "OGLE-BLG-CEP-067-B", "1.692", big_s,
      (0.089, -0.0886), ticks_blg, False, b_pts + b_pts_more + b_pts_core, b_fit)
panel((679.3, 51.7, 925.7, 230), "OGLE-GD-CEP-0291-A", "3.668", small_s,
      (0.148, -0.1856), ticks_cep, True, c_pts, c_fit)
panel((14, 296, 302, 499.3), "OGLE-GD-CEP-0291-B", "3.399", big_s,
      (0.144, -0.186), ticks_cep, False, d_pts, d_fit)
panel((369.3, 326, 616, 505), "OGLE-LMC-CEP-0571-A", "3.080", small_s,
      (0.136, -0.169), ticks_cep, True, e_pts3, e_fit3, e_pts4 + e_pts4_more, e_fit4)
panel((636, 294, 923.5, 499.3), "OGLE-LMC-CEP-0571-B", "2.101", big_s,
      (0.148, -0.155), ticks_cep, False, f_pts3, f_fit3, f_pts4 + f_pts4_more, f_fit4)

fig.savefig("out.png", dpi=100)
